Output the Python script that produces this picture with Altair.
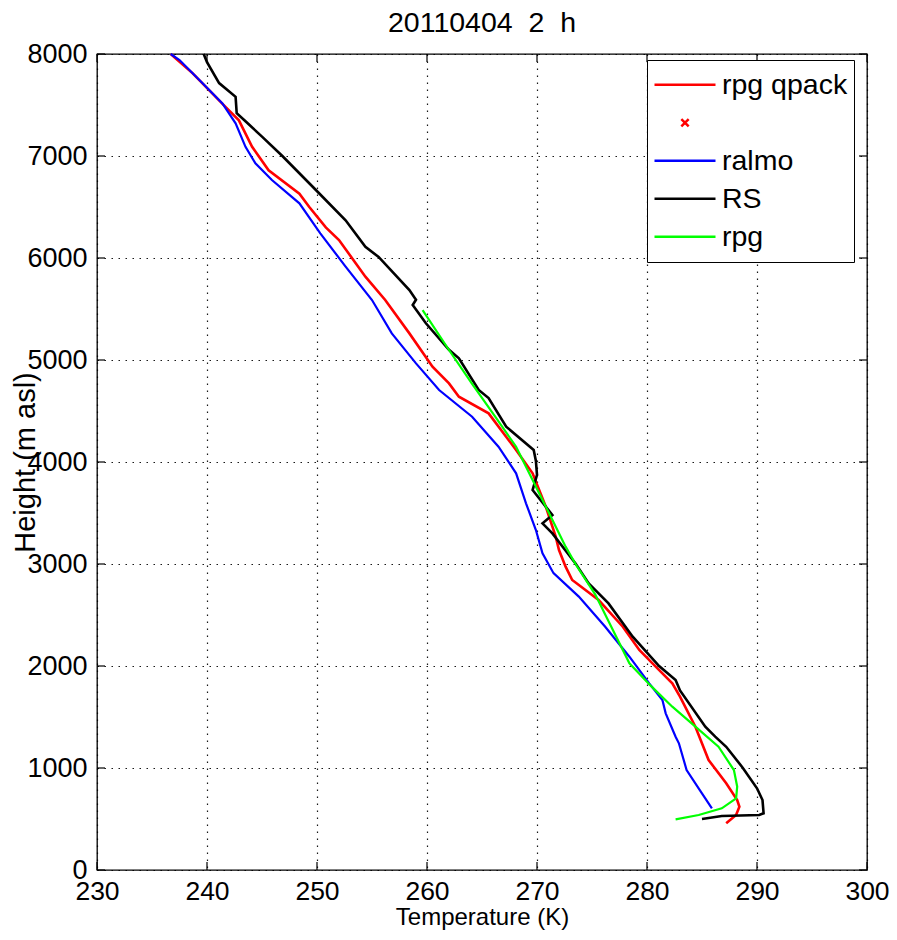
import altair as alt
import pandas as pd

# ---- data ----
rs_T = [239.7, 240.0, 241.1, 242.6, 242.7, 243.5, 245.0, 246.85, 249.9, 252.6, 254.4, 255.6, 258.4,
        259.0, 258.7, 259.9, 262.0, 262.9, 264.7, 265.6, 267.2, 269.7, 269.9, 270.0, 269.6, 271.4,
        270.5, 271.4, 273.5, 274.7, 276.5, 278.7, 281.1, 282.6, 283.0, 285.3, 286.2, 287.2, 288.7,
        290.0, 290.5, 290.6, 290.2, 286.8, 285.0]
rs_H = [8000, 7920, 7715, 7580, 7420, 7340, 7190, 7000, 6667, 6370, 6110, 6010, 5686,
        5590, 5540, 5360, 5100, 5016, 4706, 4627, 4346, 4118, 4010, 3873, 3725, 3480,
        3399, 3300, 3006, 2810, 2614, 2287, 2000, 1862, 1760, 1405, 1307, 1208, 1003,
        801, 686, 556, 539, 529, 500]

qpack_T = [236.7, 238.7, 241.7, 242.9, 244.1, 245.6, 248.4, 249.3, 250.8, 252.0, 254.4, 256.2, 258.4,
           260.5, 262.0, 262.9, 265.6, 268.1, 269.6, 270.8, 271.7, 272.0, 272.6, 273.2, 275.6, 277.8,
           279.3, 280.5, 282.3, 283.0, 284.4, 285.6, 287.2, 288.2, 288.4, 288.1, 287.2]
qpack_H = [8000, 7810, 7480, 7350, 7090, 6860, 6630, 6500, 6300, 6176, 5817, 5588, 5261,
           4935, 4771, 4640, 4477, 4118, 3889, 3562, 3268, 3137, 2974, 2843, 2647, 2385,
           2157, 2026, 1830, 1700, 1405, 1078, 850, 686, 620, 539, 458]

ralmo_T = [236.7, 237.5, 239.6, 241.4, 242.6, 243.5, 244.4, 245.9, 248.4, 250.3, 252.6, 255.0, 256.8,
           259.0, 261.1, 264.1, 266.5, 268.1, 269.0, 269.9, 270.5, 271.5, 273.8, 276.2, 278.4, 280.2,
           281.4, 281.7, 282.6, 282.9, 283.6, 284.8, 285.9]
ralmo_H = [8000, 7941, 7713, 7516, 7320, 7090, 6928, 6765, 6536, 6242, 5915, 5588, 5261,
           4967, 4706, 4444, 4150, 3889, 3595, 3333, 3105, 2910, 2680, 2385, 2091, 1830,
           1667, 1536, 1307, 1242, 980, 784, 605]

rpg_T = [259.6, 262.0, 264.1, 266.2, 268.1, 269.6, 271.1, 272.6, 273.5, 275.3, 276.3, 278.4, 280.4,
         282.3, 284.4, 286.5, 287.9, 288.2, 288.1, 286.8, 284.7, 282.6]
rpg_H = [5490, 5098, 4765, 4444, 4150, 3824, 3497, 3170, 3000, 2700, 2483, 2026, 1800,
         1601, 1405, 1209, 980, 817, 703, 605, 539, 496]

SERIES = ["rpg qpack", "qpack x", "ralmo", "RS", "rpg"]
COLORS = ["#ff0000", "#ff0000", "#0000ff", "#000000", "#00ff00"]
X_TICKS = [230, 240, 250, 260, 270, 280, 290, 300]
Y_TICKS = [0, 1000, 2000, 3000, 4000, 5000, 6000, 7000, 8000]
TITLE = "20110404\u00a0\u00a02\u00a0\u00a0h"

# ---- styling ----
W, H = 770, 816
LINE_PATH = "M-1,0L1,0"
CROSS_PATH = "M-0.12,-0.12L0.12,0.12M-0.12,0.12L0.12,-0.12"
SHAPES = [LINE_PATH, CROSS_PATH, LINE_PATH, LINE_PATH, LINE_PATH]
FONT = "Liberation Sans"

rows = []
for name, Ts, Hs in [("rpg qpack", qpack_T, qpack_H), ("ralmo", ralmo_T, ralmo_H),
                     ("RS", rs_T, rs_H), ("rpg", rpg_T, rpg_H)]:
    for i, (t, h) in enumerate(zip(Ts, Hs)):
        rows.append({"series": name, "T": t, "H": h, "i": i})
df = pd.DataFrame(rows)

xscale = alt.Scale(domain=[230, 300], nice=False, zero=False)
yscale = alt.Scale(domain=[0, 8000], nice=False)

xaxis = alt.Axis(values=X_TICKS, format="d", title="Temperature (K)", titleFontSize=24,
                 titleFont=FONT, titleFontWeight="normal", titleY=47, titleBaseline="middle",
                 titleColor="black",
                 labelFont=FONT, labelFontSize=26.5, labelColor="black", labelOverlap=False,
                 labelFlush=False, labelPadding=8,
                 grid=True, gridColor="black", gridDash=[1.5, 5.5], gridOpacity=0.9, gridWidth=1.2,
                 domain=False, ticks=False)
yaxis = alt.Axis(values=Y_TICKS, format="d", title="Height (m asl)", titleFontSize=29,
                 titleFont=FONT, titleFontWeight="normal", titleX=-72, titleY=H / 2,
                 titleBaseline="middle", titleAngle=-90, titleColor="black",
                 labelFont=FONT, labelFontSize=27, labelColor="black", labelOverlap=False,
                 labelFlush=False, labelPadding=10,
                 grid=True, gridColor="black", gridDash=[1.5, 5.5], gridOpacity=0.9, gridWidth=1.2,
                 domain=False, ticks=False)

legend = alt.Legend(title=None, orient="none", legendX=550, legendY=6, direction="vertical",
                    fillColor="white", strokeColor="black", padding=6, rowPadding=0,
                    symbolSize=3721, symbolStrokeWidth=2.5, clipHeight=37.5,
                    labelFont=FONT, labelFontSize=28.5, labelColor="black", labelOffset=5,
                    labelLimit=400,
                    labelExpr="datum.label == 'qpack x' ? '' : datum.label")

color = alt.Color("series:N", scale=alt.Scale(domain=SERIES, range=COLORS), legend=legend)
shape = alt.Shape("series:N", scale=alt.Scale(domain=SERIES, range=SHAPES), legend=legend)

base = alt.Chart(df)
X = alt.X("T:Q", scale=xscale, axis=xaxis)
Y = alt.Y("H:Q", scale=yscale, axis=yaxis)

layers = []
for name, sw in [("rpg qpack", 2.6), ("ralmo", 2.2), ("RS", 2.6), ("rpg", 2.2)]:
    layers.append(
        base.transform_filter(alt.datum.series == name)
        .mark_line(strokeWidth=sw)
        .encode(x=X, y=Y, color=color, order=alt.Order("i:Q"))
    )

legend_pts = alt.Chart(pd.DataFrame({"series": SERIES})).mark_point(opacity=0).encode(
    color=color, shape=shape
)

xt = pd.DataFrame({"T": X_TICKS})
yt = pd.DataFrame({"H": Y_TICKS})
tick_x_bot = alt.Chart(xt).mark_rule(color="black", strokeWidth=1.2).encode(
    x=X, y=alt.value(H - 8), y2=alt.value(H))
tick_x_top = alt.Chart(xt).mark_rule(color="black", strokeWidth=1.2).encode(
    x=X, y=alt.value(0), y2=alt.value(8))
tick_y_left = alt.Chart(yt).mark_rule(color="black", strokeWidth=1.2).encode(
    y=Y, x=alt.value(0), x2=alt.value(8))
tick_y_right = alt.Chart(yt).mark_rule(color="black", strokeWidth=1.2).encode(
    y=Y, x=alt.value(W - 8), x2=alt.value(W))

chart = alt.layer(tick_x_bot, tick_x_top, tick_y_left, tick_y_right, *layers, legend_pts).properties(
    width=W, height=H,
    background="white",
    title=alt.TitleParams(TITLE, font=FONT, fontSize=28.5, fontWeight="normal", color="black",
                          anchor="middle", offset=3),
    autosize=alt.AutoSizeParams(type="none"),
    padding={"left": 89, "top": 46, "right": 22, "bottom": 62},
).configure_view(
    stroke="black", strokeWidth=1.3
)

chart.save("out.html", embed_options={"renderer": "svg", "actions": False})
